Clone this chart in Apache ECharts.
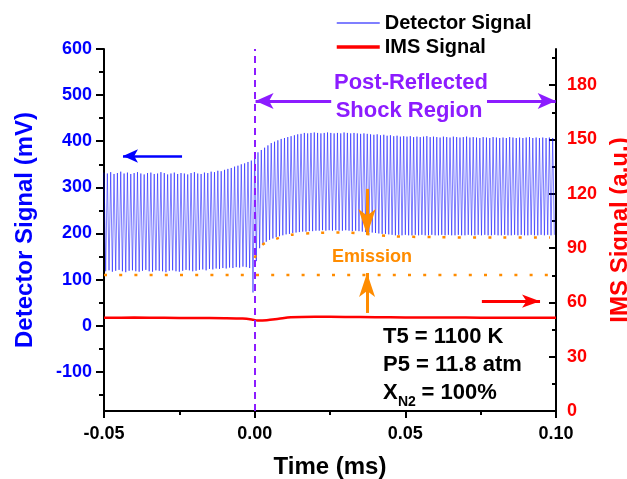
<!DOCTYPE html>
<html><head><meta charset="utf-8">
<script src="https://cdn.jsdelivr.net/npm/echarts@6/dist/echarts.min.js"></script>
<style>html,body{margin:0;padding:0;background:#fff}#c{width:627px;height:479px}</style>
</head><body><div id="c"></div>
<script>
// ---------- data ----------
const timeRange = [-0.05, 0.10];
const shockTime = 0.0;
// per-cycle peak / trough values of the detector signal (mV)
const preShockPeaks = [332,330,333,329,331,334,330,332,329,331,
  333,330,328,331,332,329,330,333,331,328,
  330,332,329,331,330,328,331,333,330,329,
  332,331,334,333,336,335,338,340,342,345,
  347,350,352,355,358];
const preShockTroughs = [118,120,117,119,121,118,116,119,120,118,
  117,119,121,118,117,120,119,118,116,119,
  120,118,117,119,121,120,118,119,121,122,
  120,123,122,124,123,125,124,126,125,127,
  126,128,127,125,72];
const postShockPeaks = [372,376,381,386,391,396,399,402,405,407,409,411,413,415,
  416,418,417,418,419,418,417,418,419,418,417,418,417,419,418,417,418,417,416,417,416,415,
  414,415,413,414,412,413,411,412,410,411,410,411,409,410,409,410,411,409,410,409,
  408,410,409,408,410,409,408,409,410,408,409,408,407,409,408,407,409,408,407,408,
  407,409,408,407,408,407,408,409,407,408,407,408,407,408,407];
const postShockTroughs = [140,168,176,182,186,189,192,194,196,198,199,201,
  202,203,204,204,205,205,
  206,206,207,206,207,206,207,206,206,207,206,205,206,205,204,
  203,202,202,201,200,199,199,198,
  197,196,197,196,197,196,196,197,196,197,196,196,197,196,196,197,196,197,196,196,
  197,196,196,197,196,196,197,196,197,196,196,197,196,196,197,196,196,197,196,197,
  196,196,197,196,196,197,196,197,196,197];
// IMS signal (a.u.)
const imsTime  = [-0.05,-0.04,-0.03,-0.02,-0.01,-0.004,-0.001,0.001,0.004,0.008,0.012,0.02,0.03,0.04,0.05,0.06,0.07,0.08,0.09,0.10];
const imsValue = [51.5,51.6,51.5,51.4,51.3,51.1,50.6,50.0,50.2,51.0,51.8,52.1,52.0,51.8,51.7,51.6,51.6,51.5,51.5,51.5];
// emission guide lines (mV)
const emissionBaseTime  = [-0.05, 0.098];
const emissionBaseValue = [110, 110];
const emissionTopTime  = [0, 0.0025, 0.007, 0.012, 0.02, 0.03, 0.037, 0.045, 0.06, 0.08, 0.098];
const emissionTopValue = [147, 175, 188, 197, 201, 202, 199, 194, 192, 191, 191];
// ticks
const xTickStep = 0.05;
const leftTicks = [-100,0,100,200,300,400,500,600];
const leftMinorTicks = [-150,-50,50,150,250,350,450,550];
const rightTicks = [0,30,60,90,120,150,180];
const rightMinorTicks = [15,45,75,105,135,165,195];
const leftRange = [-185, 600];
const rightRange = [0, 200];

// ---------- build series ----------
const det = [];
const pPre = (shockTime - timeRange[0]) / preShockPeaks.length;
preShockPeaks.forEach((v, i) => {
  det.push([timeRange[0] + i * pPre, v]);
  det.push([timeRange[0] + (i + 0.5) * pPre, preShockTroughs[i]]);
});
const pPost = (timeRange[1] - shockTime) / postShockPeaks.length;
postShockPeaks.forEach((v, i) => {
  det.push([shockTime + i * pPost, v]);
  det.push([shockTime + (i + 0.5) * pPost, postShockTroughs[i]]);
});
const zip = (a, b) => a.map((t, i) => [t, b[i]]);

const FF = '"Liberation Sans", Arial, sans-serif';
const PURPLE = '#8c1cff', ORANGE = '#ff8c00', BLUE = '#0000ff', RED = '#ff0000';
const axisLineStyle = {color: '#000', width: 2};

function arrow(from, tip, color, width, size) {
  return [
    {coord: from, symbol: 'none', lineStyle: {color, width, type: 'solid'}},
    {coord: tip, symbol: 'arrow', symbolSize: size, lineStyle: {color, width, type: 'solid'}}
  ];
}

const chart = echarts.init(document.getElementById('c'), null, {renderer: 'canvas'});
chart.setOption({
  animation: false,
  backgroundColor: '#fff',
  textStyle: {fontFamily: FF},
  grid: {left: 104, right: 71, top: 49, bottom: 68, containLabel: false, outerBoundsMode: 'none'},
  legend: {
    data: [
      {name: 'Detector Signal', lineStyle: {width: 1.2, opacity: 1}},
      {name: 'IMS Signal', lineStyle: {width: 3.5}}
    ],
    orient: 'vertical', left: 335, top: 13, padding: 0,
    itemWidth: 43, itemHeight: 14, itemGap: 4,
    itemStyle: {opacity: 0},
    textStyle: {fontFamily: FF, fontSize: 20, fontWeight: 'bold', color: '#000', lineHeight: 20},
    selectedMode: false
  },
  xAxis: {
    type: 'value', min: timeRange[0], max: timeRange[1], interval: xTickStep,
    axisLine: {show: true, onZero: false, lineStyle: axisLineStyle},
    axisTick: {show: true, inside: false, length: 7, lineStyle: axisLineStyle},
    minorTick: {show: true, splitNumber: 2, length: 4, lineStyle: axisLineStyle},
    splitLine: {show: false},
    axisLabel: {formatter: v => v.toFixed(2), color: '#000', fontSize: 18, fontWeight: 'bold', margin: 14, fontFamily: FF},
    name: 'Time (ms)', nameLocation: 'middle', nameGap: 44,
    nameTextStyle: {color: '#000', fontSize: 24, fontWeight: 'bold', fontFamily: FF}
  },
  yAxis: [
    {
      type: 'value', position: 'left', min: leftRange[0], max: leftRange[1],
      axisLine: {show: true, onZero: false, lineStyle: axisLineStyle},
      axisTick: {show: true, inside: false, length: 8, lineStyle: axisLineStyle, customValues: leftTicks},
      axisLabel: {customValues: leftTicks, color: BLUE, fontSize: 18, fontWeight: 'bold', margin: 12, fontFamily: FF},
      splitLine: {show: false},
      name: 'Detector Signal (mV)', nameLocation: 'middle', nameRotate: 90, nameGap: 67,
      nameTextStyle: {color: BLUE, fontSize: 24, fontWeight: 'bold', fontFamily: FF}
    },
    {
      type: 'value', position: 'right', min: rightRange[0], max: rightRange[1],
      axisLine: {show: true, onZero: false, lineStyle: axisLineStyle},
      axisTick: {show: true, inside: true, length: 7, lineStyle: axisLineStyle, customValues: rightTicks},
      axisLabel: {customValues: rightTicks, color: RED, fontSize: 18, fontWeight: 'bold', margin: 11, fontFamily: FF},
      splitLine: {show: false},
      name: 'IMS Signal (a.u.)', nameLocation: 'middle', nameRotate: 90, nameGap: 45,
      nameTextStyle: {color: RED, fontSize: 24, fontWeight: 'bold', fontFamily: FF}
    },
    {
      type: 'value', position: 'left', min: leftRange[0], max: leftRange[1],
      axisLine: {show: false, onZero: false},
      axisTick: {show: true, inside: false, length: 5, lineStyle: axisLineStyle, customValues: leftMinorTicks},
      axisLabel: {show: false}, splitLine: {show: false}
    },
    {
      type: 'value', position: 'right', min: rightRange[0], max: rightRange[1],
      axisLine: {show: false, onZero: false},
      axisTick: {show: true, inside: true, length: 4, lineStyle: axisLineStyle, customValues: rightMinorTicks},
      axisLabel: {show: false}, splitLine: {show: false}
    }
  ],
  series: [
    {
      name: 'Detector Signal', type: 'line', yAxisIndex: 0, data: det,
      symbol: 'none', color: BLUE, lineStyle: {color: BLUE, width: 0.6, opacity: 0.85}, silent: true,
      markLine: {
        silent: true, animation: false, label: {show: false}, emphasis: {disabled: true},
        symbol: ['none', 'none'],
        data: [
          {xAxis: shockTime, lineStyle: {color: PURPLE, width: 2, type: [7, 5], opacity: 1}},
          arrow([-0.0241, 368], [-0.0437, 368], BLUE, 2.5, [10, 15]),
          arrow([0.0254, 487], [0.0003, 487], PURPLE, 3, [12, 18]),
          arrow([0.0771, 487], [0.0999, 487], PURPLE, 3, [12, 18]),
          arrow([0.0373, 296.7], [0.0373, 196.9], ORANGE, 3, [13, 26]),
          arrow([0.0373, 27.6], [0.0373, 114.2], ORANGE, 3, [12, 24])
        ]
      }
    },
    {
      name: 'emission-base', type: 'line', yAxisIndex: 0, data: zip(emissionBaseTime, emissionBaseValue),
      symbol: 'none', silent: true, lineStyle: {color: ORANGE, width: 2.5, type: [3, 12.2]}
    },
    {
      name: 'emission-top', type: 'line', yAxisIndex: 0, data: zip(emissionTopTime, emissionTopValue),
      symbol: 'none', silent: true, smooth: 0.3, lineStyle: {color: ORANGE, width: 2.5, type: [3, 12.2]}
    },
    {
      name: 'IMS Signal', type: 'line', yAxisIndex: 1, data: zip(imsTime, imsValue),
      symbol: 'none', color: RED, smooth: 0.3, lineStyle: {color: RED, width: 2.5}, silent: true,
      markLine: {
        silent: true, animation: false, label: {show: false}, emphasis: {disabled: true},
        symbol: ['none', 'none'],
        data: [arrow([0.0754, 60.7], [0.0947, 60.7], RED, 3, [10, 18])]
      }
    }
  ],
  graphic: [
    {type: 'text', silent: true, style: {text: 'Post-Reflected', x: 411, y: 83, font: 'bold 22px ' + FF, fill: PURPLE, align: 'center', verticalAlign: 'middle', textAlign: 'center', textVerticalAlign: 'middle'}},
    {type: 'text', silent: true, style: {text: 'Shock Region', x: 409, y: 111, font: 'bold 22px ' + FF, fill: PURPLE, align: 'center', verticalAlign: 'middle', textAlign: 'center', textVerticalAlign: 'middle'}},
    {type: 'text', silent: true, style: {text: 'Emission', x: 372, y: 257, font: 'bold 18px ' + FF, fill: ORANGE, align: 'center', verticalAlign: 'middle', textAlign: 'center', textVerticalAlign: 'middle'}},
    {type: 'text', silent: true, style: {text: 'T5 = 1100 K', x: 383, y: 337, font: 'bold 22px ' + FF, fill: '#000', align: 'left', verticalAlign: 'middle', textAlign: 'left', textVerticalAlign: 'middle'}},
    {type: 'text', silent: true, style: {text: 'P5 = 11.8 atm', x: 383, y: 365, font: 'bold 22px ' + FF, fill: '#000', align: 'left', verticalAlign: 'middle', textAlign: 'left', textVerticalAlign: 'middle'}},
    {type: 'text', silent: true, style: {text: 'X', x: 383, y: 393, font: 'bold 22px ' + FF, fill: '#000', align: 'left', verticalAlign: 'middle', textAlign: 'left', textVerticalAlign: 'middle'}},
    {type: 'text', silent: true, style: {text: 'N2', x: 398, y: 402, font: 'bold 14px ' + FF, fill: '#000', align: 'left', verticalAlign: 'middle', textAlign: 'left', textVerticalAlign: 'middle'}},
    {type: 'text', silent: true, style: {text: ' = 100%', x: 415.5, y: 393, font: 'bold 22px ' + FF, fill: '#000', align: 'left', verticalAlign: 'middle', textAlign: 'left', textVerticalAlign: 'middle'}}
  ]
});
</script>
</body></html>
